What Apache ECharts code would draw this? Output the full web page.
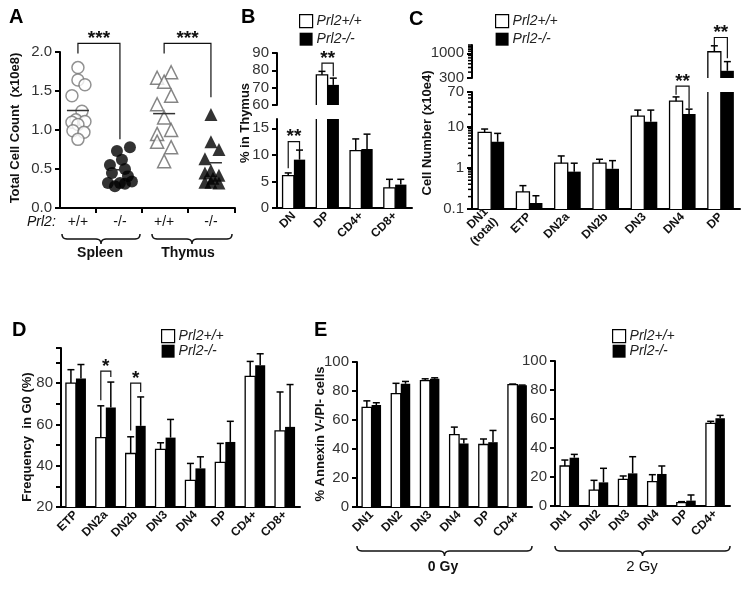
<!DOCTYPE html>
<html>
<head>
<meta charset="utf-8">
<script src="https://cdn.jsdelivr.net/npm/echarts@6/dist/echarts.min.js"></script>
<style>
  html, body { margin: 0; padding: 0; background: #fff; }
  #main { width: 752px; height: 589px; }
</style>
</head>
<body>
<div id="main"></div>
<script>
const FONT = '"Liberation Sans", Arial, sans-serif';
const WT = 'Prl2+/+';
const KO = 'Prl2-/-';

// ---- A: total cell counts (x10e8)
const groupsA = ['+/+', '-/-', '+/+', '-/-'];
const spleenWT = [1.80, 1.64, 1.58, 1.44, 1.24, 1.13, 1.11, 1.10, 1.07, 0.99, 0.97, 0.88];
const spleenKO = [0.78, 0.73, 0.62, 0.55, 0.50, 0.45, 0.41, 0.34, 0.32, 0.32, 0.31, 0.28];
const thymusWT = [1.74, 1.67, 1.62, 1.44, 1.33, 1.16, 1.00, 0.95, 0.85, 0.78, 0.60];
const thymusKO = [1.20, 0.85, 0.75, 0.63, 0.48, 0.45, 0.42, 0.38, 0.33, 0.33, 0.32];
const meansA = [1.25, 0.49, 1.21, 0.58];
// [left group, right group, left leg end, right leg end, bracket top, stars]
const sigA = [[0, 1, 1.98, 0.88, 2.11, '***'], [2, 3, 1.98, 1.42, 2.11, '***']];

// ---- B: % in thymus
const catsB = ['DN', 'DP', 'CD4+', 'CD8+'];
const bWT = [6.1, 77.4, 10.8, 3.8];
const bWTerr = [6.6, 79.4, 13.0, 5.4];
const bKO = [9.1, 71.6, 11.1, 4.4];
const bKOerr = [10.9, 75.5, 13.9, 5.4];
// [category, left leg end, right leg end, bracket top, stars]
const sigBlow = [[0, 7.5, 10.9, 12.5, '**']];
const sigBup = [[1, 79.6, 76.6, 84.2, '**']];

// ---- C: cell number (x10e4), log scale
const catsC = ['DN1\n(total)', 'ETP', 'DN2a', 'DN2b', 'DN3', 'DN4', 'DP'];
const cWT = [7.3, 0.26, 1.3, 1.3, 18.2, 41.9, 1080];
const cWTerr = [8.8, 0.37, 1.95, 1.62, 25.4, 53.2, 1443];
const cKO = [4.3, 0.14, 0.81, 0.95, 13.2, 20.3, 426];
const cKOerr = [6.9, 0.21, 1.3, 1.5, 25.4, 26.8, 667];
const sigClow = [[5, 60, 28, 97, '**']];
const sigCup = [[6, 1443, 785, 2165, '**']];

// ---- D: frequency in G0 (%)
const catsD = ['ETP', 'DN2a', 'DN2b', 'DN3', 'DN4', 'DP', 'CD4+', 'CD8+'];
const dWT = [80.0, 53.6, 45.9, 47.9, 32.9, 41.6, 83.3, 56.9];
const dWTerr = [86.5, 69.0, 54.0, 51.1, 41.1, 50.8, 90.5, 75.7];
const dKO = [82.2, 68.2, 59.3, 53.6, 38.7, 51.5, 88.6, 58.8];
const dKOerr = [89.0, 80.5, 73.3, 62.4, 44.3, 61.5, 94.2, 79.3];
const sigD = [[1, 71.7, 83.0, 85.8, '*'], [2, 57.0, 75.7, 80.0, '*']];

// ---- E: % Annexin V-/PI- cells
const catsE = ['DN1', 'DN2', 'DN3', 'DN4', 'DP', 'CD4+'];
const e0WT = [68.7, 78.2, 87.1, 49.9, 43.1, 84.4];
const e0WTerr = [73.2, 85.3, 88.4, 55.1, 46.9, 84.8];
const e0KO = [70.3, 85.0, 88.4, 43.8, 44.7, 83.9];
const e0KOerr = [71.9, 86.6, 89.1, 46.9, 52.8, 84.1];
const e2WT = [27.6, 11.0, 18.4, 16.8, 2.3, 57.0];
const e2WTerr = [31.7, 17.7, 20.7, 21.6, 3.0, 58.4];
const e2KO = [33.3, 16.3, 22.5, 22.1, 3.7, 60.5];
const e2KOerr = [35.6, 26.0, 34.0, 27.6, 7.6, 62.5];

// layout for panel A: group centres on the x value axis, and horizontal jitter in pixels
const centersA = [0.41, 1.37, 2.38, 3.45];
const jitterA = [
  [0, 0, 7, -6, 4, -2, 7, -6, 0, -5, 6, 0],
  [10, -3, 2, -10, 5, -8, 8, 12, -12, 0, 5, -5],
  [7, -7, 0, 7, -7, 0, 7, -7, -7, 7, 0],
  [0, 0, 8, -6, 0, -6, 8, 2, -6, 0, 8]
];
const PX_A = 4 / 175;

function line(x1, y1, x2, y2, w) {
  return { type: 'line', shape: { x1, y1, x2, y2 }, style: { stroke: '#000', lineWidth: w || 1.5 } };
}

function barSeries(name, vals, errs, ncat, gap, ai, only) {
  const side = name === WT ? -1 : 1;
  const data = [];
  vals.forEach((v, i) => { if (!only || only.indexOf(i) >= 0) data.push([i, v, errs[i]]); });
  return {
    type: 'custom', name, xAxisIndex: ai, yAxisIndex: ai, data, z: 2,
    itemStyle: side < 0 ? { color: '#fff', borderColor: '#000', borderWidth: 1.2 } : { color: '#000' },
    renderItem(params, api) {
      const cs = params.coordSys;
      const bw = cs.width / ncat * (1 - gap) / 2;
      const idx = api.value(0);
      const top = api.coord([idx, api.value(1)]);
      const cx = top[0] + side * bw / 2;
      const bottom = cs.y + cs.height;
      const clipped = top[1] < cs.y;
      const y = clipped ? cs.y : top[1];
      if (y >= bottom) return null;
      const x0 = cx - bw / 2, x1 = cx + bw / 2;
      const kids = [{ type: 'rect', shape: { x: x0, y, width: bw, height: bottom - y },
        style: { fill: side < 0 ? '#fff' : '#000' } }];
      if (side < 0) {
        if (clipped) {
          kids.push(line(x0, y, x0, bottom, 1.3), line(x1, y, x1, bottom, 1.3));
        } else {
          kids.push({ type: 'polyline', shape: { points: [[x0, bottom], [x0, y], [x1, y], [x1, bottom]] },
            style: { fill: null, stroke: '#000', lineWidth: 1.3 } });
        }
      }
      if (!clipped) {
        const e = api.coord([idx, api.value(2)]);
        kids.push(line(cx, y, cx, e[1]), line(cx - 3.5, e[1], cx + 3.5, e[1]));
      }
      return { type: 'group', children: kids };
    }
  };
}

function starText(text, x, y) {
  return { type: 'text', style: { text, x, y: y + 5, textAlign: 'center', textVerticalAlign: 'bottom',
    align: 'center', verticalAlign: 'bottom', font: 'bold 19px ' + FONT, fill: '#111' } };
}

function sigSeries(items, ncat, gap, ai) {
  return {
    type: 'custom', xAxisIndex: ai, yAxisIndex: ai, silent: true, clip: false, z: 5,
    data: items.map(s => [s[0], s[1], s[2], s[3]]),
    renderItem(params, api) {
      const cs = params.coordSys;
      const bw = cs.width / ncat * (1 - gap) / 2;
      const idx = api.value(0);
      const pL = api.coord([idx, api.value(1)]);
      const pR = api.coord([idx, api.value(2)]);
      const pT = api.coord([idx, api.value(3)]);
      const xL = pT[0] - bw / 2, xR = pT[0] + bw / 2;
      return { type: 'group', children: [
        { type: 'polyline', shape: { points: [[xL, pL[1]], [xL, pT[1]], [xR, pT[1]], [xR, pR[1]]] },
          style: { fill: null, stroke: '#111', lineWidth: 1.2 } },
        starText(items[params.dataIndex][4], pT[0], pT[1])
      ] };
    }
  };
}

// short ticks on the left of a (log) y axis, drawn through that axis' scale
function minorTicks(values, ai) {
  return {
    type: 'custom', xAxisIndex: ai, yAxisIndex: ai, silent: true, clip: false, z: 6,
    data: values.map(v => [0, v]),
    renderItem(params, api) {
      const cs = params.coordSys;
      const p = api.coord([0, api.value(1)]);
      return line(cs.x - 4, p[1], cs.x, p[1], 1.5);
    }
  };
}

function logMinors(lo, hi) {
  const out = [];
  for (let d = 0.1; d < hi; d *= 10) {
    for (let k = 2; k <= 9; k++) {
      const v = +(k * d).toPrecision(3);
      if (v > lo && v < hi) out.push(v);
    }
  }
  return out;
}

function scatterPts(vals, g) {
  return vals.map((v, i) => [centersA[g] + jitterA[g][i] * PX_A, v]);
}

const axisLine = { lineStyle: { color: '#000', width: 2 } };
const axisTick = { length: 5, lineStyle: { color: '#000', width: 2 } };
const yLabel = { color: '#333', fontSize: 15, fontFamily: FONT, margin: 8 };

function catAxis(cats, gi, show) {
  return {
    type: 'category', gridIndex: gi, data: cats, show: show !== false,
    axisLine, axisTick: { ...axisTick, interval: 0, alignWithLabel: false },
    axisLabel: { interval: 0, rotate: 45, fontSize: 12, fontWeight: 'bold', color: '#111',
      fontFamily: FONT, margin: 6, lineHeight: 14 },
    splitLine: { show: false }
  };
}

function valAxis(gi, opts) {
  return Object.assign({
    type: 'value', gridIndex: gi, axisLine: { show: true, ...axisLine }, axisTick: { show: true, ...axisTick },
    axisLabel: { ...yLabel }, splitLine: { show: false }
  }, opts);
}

const grids = [
  { left: 60, top: 52, width: 175, height: 156 },   // A
  { left: 277, top: 119, width: 135, height: 89 },  // B lower
  { left: 277, top: 53, width: 135, height: 52 },   // B upper
  { left: 472, top: 92, width: 268, height: 117 },  // C lower
  { left: 472, top: 45, width: 268, height: 33 },   // C upper
  { left: 61, top: 348, width: 239, height: 159 },  // D
  { left: 357, top: 362, width: 175, height: 145 }, // E 0 Gy
  { left: 555, top: 361, width: 175, height: 145 }  // E 2 Gy
].map(g => Object.assign(g, { outerBoundsMode: 'none', containLabel: false }));

const xAxes = [
  {
    type: 'value', gridIndex: 0, min: 0, max: 4,
    axisLine, axisTick: { ...axisTick, customValues: [0.82, 1.87, 2.93, 4] },
    axisLabel: { customValues: centersA, color: '#111', fontSize: 14, fontFamily: FONT, margin: 7,
      formatter: v => { const i = centersA.findIndex(c => Math.abs(c - v) < 1e-6); return i >= 0 ? groupsA[i] : ''; } },
    splitLine: { show: false }
  },
  catAxis(catsB, 1), catAxis(catsB, 2, false),
  catAxis(catsC, 3), catAxis(catsC, 4, false),
  catAxis(catsD, 5),
  catAxis(catsE, 6), catAxis(catsE, 7)
];

const yAxes = [
  valAxis(0, { min: 0, max: 2, interval: 0.5, axisLabel: { ...yLabel, formatter: v => v.toFixed(1) } }),
  valAxis(1, { min: 0, max: 16.75, interval: 5, axisLabel: { ...yLabel, showMaxLabel: false } }),
  valAxis(2, { min: 60, max: 90, interval: 10 }),
  valAxis(3, { type: 'log', logBase: 10, min: 0.1, max: 70, axisLabel: { ...yLabel, formatter: v => String(v) } }),
  valAxis(4, { type: 'log', logBase: 10, min: 300, max: 1500,
    axisLabel: { ...yLabel, showMaxLabel: false, formatter: v => String(v) } }),
  valAxis(5, { min: 20, max: 97, interval: 10,
    axisLabel: { ...yLabel, formatter: v => (v % 20 === 0 ? String(v) : '') } }),
  valAxis(6, { min: 0, max: 100, interval: 20 }),
  valAxis(7, { min: 0, max: 100, interval: 20 })
];

const series = [
  { type: 'scatter', name: 'Spleen +/+', xAxisIndex: 0, yAxisIndex: 0, symbol: 'circle', symbolSize: 12,
    data: scatterPts(spleenWT, 0), itemStyle: { color: '#fff', borderColor: '#777', borderWidth: 1.5 } },
  { type: 'scatter', name: 'Spleen -/-', xAxisIndex: 0, yAxisIndex: 0, symbol: 'circle', symbolSize: 12,
    data: scatterPts(spleenKO, 1), itemStyle: { color: '#000' } },
  { type: 'scatter', name: 'Thymus +/+', xAxisIndex: 0, yAxisIndex: 0, symbol: 'triangle', symbolSize: 13,
    data: scatterPts(thymusWT, 2), itemStyle: { color: '#fff', borderColor: '#666', borderWidth: 1.5 } },
  { type: 'scatter', name: 'Thymus -/-', xAxisIndex: 0, yAxisIndex: 0, symbol: 'triangle', symbolSize: 13,
    data: scatterPts(thymusKO, 3), itemStyle: { color: '#000' } },
  {
    type: 'custom', xAxisIndex: 0, yAxisIndex: 0, silent: true, z: 4,
    data: meansA.map((m, g) => [centersA[g], m]),
    renderItem(params, api) {
      const c = api.coord([api.value(0), api.value(1)]);
      return { type: 'line', shape: { x1: c[0] - 11, y1: c[1], x2: c[0] + 11, y2: c[1] },
        style: { stroke: '#333', lineWidth: 1.5 } };
    }
  },
  {
    type: 'custom', xAxisIndex: 0, yAxisIndex: 0, silent: true, clip: false, z: 5,
    data: sigA.map(s => [s[0], s[1], s[2], s[3], s[4]]),
    renderItem(params, api) {
      const xl = centersA[api.value(0)], xr = centersA[api.value(1)];
      const pL = api.coord([xl, api.value(2)]);
      const pR = api.coord([xr, api.value(3)]);
      const pT = api.coord([xl, api.value(4)]);
      return { type: 'group', children: [
        { type: 'polyline', shape: { points: [[pL[0], pL[1]], [pL[0], pT[1]], [pR[0], pT[1]], [pR[0], pR[1]]] },
          style: { fill: null, stroke: '#111', lineWidth: 1.2 } },
        starText(sigA[params.dataIndex][5], (pL[0] + pR[0]) / 2, pT[1])
      ] };
    }
  },
  // B
  barSeries(WT, bWT, bWTerr, 4, 0.33, 1), barSeries(KO, bKO, bKOerr, 4, 0.33, 1),
  barSeries(WT, bWT, bWTerr, 4, 0.33, 2, [1]), barSeries(KO, bKO, bKOerr, 4, 0.33, 2, [1]),
  sigSeries(sigBlow, 4, 0.33, 1), sigSeries(sigBup, 4, 0.33, 2),
  // C
  barSeries(WT, cWT, cWTerr, 7, 0.32, 3), barSeries(KO, cKO, cKOerr, 7, 0.32, 3),
  barSeries(WT, cWT, cWTerr, 7, 0.32, 4, [6]), barSeries(KO, cKO, cKOerr, 7, 0.32, 4, [6]),
  sigSeries(sigClow, 7, 0.32, 3), sigSeries(sigCup, 7, 0.32, 4),
  minorTicks(logMinors(0.1, 70), 3),
  minorTicks([400, 500, 600, 700, 800, 900, 1100, 1200, 1300, 1400, 1500], 4),
  // D
  barSeries(WT, dWT, dWTerr, 8, 0.33, 5), barSeries(KO, dKO, dKOerr, 8, 0.33, 5),
  sigSeries(sigD, 8, 0.33, 5),
  // E
  barSeries(WT, e0WT, e0WTerr, 6, 0.35, 6), barSeries(KO, e0KO, e0KOerr, 6, 0.35, 6),
  barSeries(WT, e2WT, e2WTerr, 6, 0.35, 7), barSeries(KO, e2KO, e2KOerr, 6, 0.35, 7)
];

function legendAt(left, top, gap) {
  return {
    orient: 'vertical', left, top, itemWidth: 13, itemHeight: 13, itemGap: gap, selectedMode: false,
    data: [
      { name: WT, icon: 'rect', itemStyle: { color: '#fff', borderColor: '#000', borderWidth: 1.2 } },
      { name: KO, icon: 'rect', itemStyle: { color: '#000' } }
    ],
    textStyle: { fontStyle: 'italic', fontSize: 14, color: '#222', fontFamily: FONT, padding: [0, 0, 0, -1] }
  };
}

function panelTitle(text, left, top) {
  return { text, left, top, padding: 0, textStyle: { fontSize: 20, fontWeight: 'bold', color: '#000', fontFamily: FONT } };
}

function vText(text, x, y, size) {
  return { type: 'text', x, y, rotation: Math.PI / 2,
    style: { text, font: 'bold ' + (size || 13) + 'px ' + FONT, fill: '#111',
      textAlign: 'center', textVerticalAlign: 'middle', align: 'center', verticalAlign: 'middle' } };
}

function hText(text, x, y, font, align) {
  return { type: 'text', x, y,
    style: { text, font: font + ' ' + FONT, fill: '#111',
      textAlign: align || 'center', textVerticalAlign: 'middle', align: align || 'center', verticalAlign: 'middle' } };
}

function qpts(p0, p1, p2) {
  const out = [];
  for (let i = 0; i <= 6; i++) {
    const t = i / 6, a = (1 - t) * (1 - t), b = 2 * (1 - t) * t, c = t * t;
    out.push([a * p0[0] + b * p1[0] + c * p2[0], a * p0[1] + b * p1[1] + c * p2[1]]);
  }
  return out;
}

function brace(x1, x2, y) {
  const m = (x1 + x2) / 2, r = 5;
  const pts = [].concat(
    qpts([x1, y - r], [x1, y], [x1 + r, y]),
    qpts([m - r, y], [m, y], [m, y + r]),
    qpts([m, y + r], [m, y], [m + r, y]),
    qpts([x2 - r, y], [x2, y], [x2, y - r])
  );
  return { type: 'polyline', shape: { points: pts }, style: { fill: null, stroke: '#111', lineWidth: 1.5 } };
}

const chart = echarts.init(document.getElementById('main'), null, { renderer: 'canvas' });
chart.setOption({
  animation: false,
  backgroundColor: '#fff',
  textStyle: { fontFamily: FONT },
  title: [
    panelTitle('A', 9, 7), panelTitle('B', 241, 7), panelTitle('C', 409, 9),
    panelTitle('D', 12, 320), panelTitle('E', 314, 320)
  ],
  legend: [legendAt(294, 9, 4), legendAt(490, 9, 4), legendAt(156, 324, 1), legendAt(607, 324, 1)],
  grid: grids,
  xAxis: xAxes,
  yAxis: yAxes,
  series,
  graphic: [
    vText('Total Cell Count  (x10e8)', 15, 128),
    vText('% in Thymus', 245, 123),
    vText('Cell Number (x10e4)', 427, 133),
    vText('Frequency  in G0 (%)', 27, 437),
    vText('% Annexin V-/PI- cells', 320, 434),
    hText('Prl2:', 27, 222, 'italic 14px', 'left'),
    brace(62, 140, 239), brace(152, 232, 239),
    hText('Spleen', 100, 253, 'bold 14px'),
    hText('Thymus', 188, 253, 'bold 14px'),
    brace(357, 532, 551), brace(555, 730, 551),
    hText('0 Gy', 443, 567, 'bold 14px'),
    hText('2 Gy', 642, 567, '15px')
  ]
});
</script>
</body>
</html>
